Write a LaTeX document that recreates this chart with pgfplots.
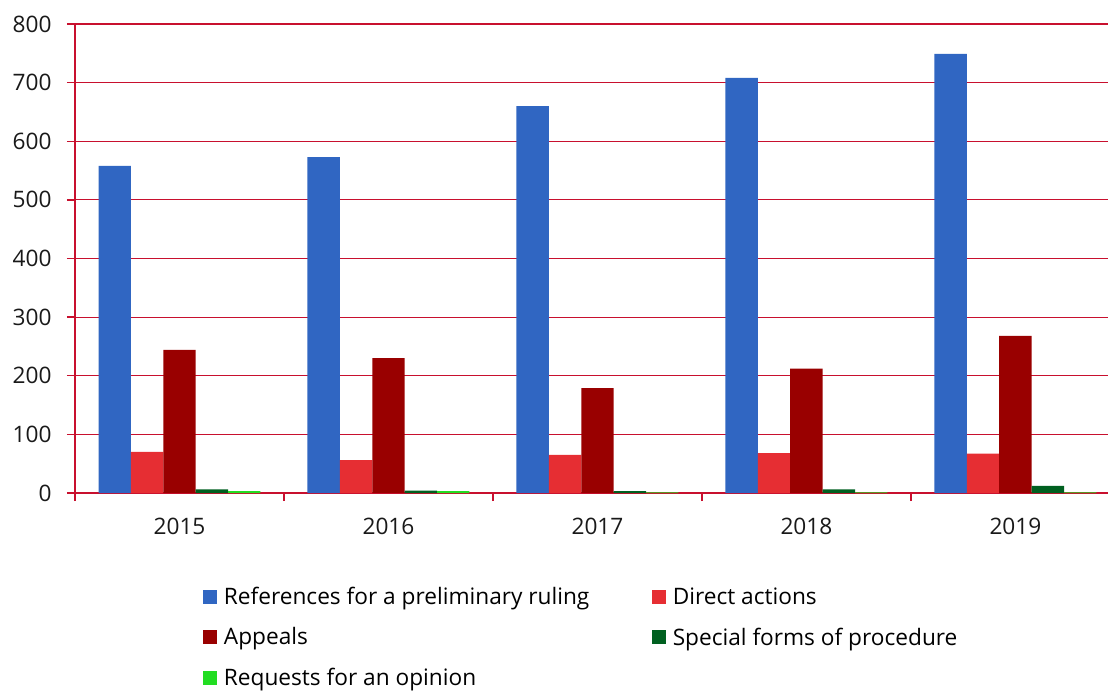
\documentclass[border=0pt]{standalone}
\usepackage{pgfplots}
\pgfplotsset{compat=1.18}
\usepackage{fontspec}
\setmainfont{Open Sans}
\definecolor{cblue}{HTML}{3066C2}
\definecolor{cred}{HTML}{E62E33}
\definecolor{cdred}{HTML}{990000}
\definecolor{cdgreen}{HTML}{006020}
\definecolor{clgreen}{HTML}{22DD22}
\definecolor{cgrid}{HTML}{C8102E}
\begin{document}
\begin{tikzpicture}
\begin{axis}[
  at={(0,0)}, anchor=south west,
  scale only axis, width=774.75pt, height=351.75pt,
  xmin=-0.5, xmax=4.443, ymin=0, ymax=800,
  ybar, bar width=0.155,
  axis x line*=bottom, axis y line*=left,
  axis line style={-, draw=cgrid, line width=1pt},
  ymajorgrids, grid style={cgrid, line width=0.9pt},
  ytick={0,100,...,800},
  tick align=outside,
  major tick length=6pt,
  tick style={cgrid, line width=1pt},
  xtick={-0.5,0.5,1.5,2.5,3.5}, xticklabels={},
  extra x ticks={0,1,2,3,4},
  extra x tick labels={2015,2016,2017,2018,2019},
  extra x tick style={major tick length=0pt, grid=none},
  /pgf/number format/assume math mode=true,
  tick label style={font=\fontsize{17}{20}\selectfont, text=black!90},
  xticklabel style={yshift=-15.5pt},
  yticklabel style={xshift=-8pt},
  legend style={draw=none, fill=none, at={(0.1239,-0.195)}, anchor=north west,
    inner sep=0pt, legend columns=2, font=\fontsize{17}{20}\selectfont,
    /tikz/every odd column/.append style={column sep=3pt},
    /tikz/every even column/.append style={column sep=45pt}, row sep=11.7pt},
  legend cell align=left,
  legend image code/.code={\fill[#1] (0pt,-5.25pt) rectangle (10.5pt,5.25pt);},
]
\addplot[fill=cblue, draw=none, bar shift=-0.31] coordinates {(0,558) (1,573) (2,660) (3,708) (4,749)};
\addplot[fill=cred, draw=none, bar shift=-0.155] coordinates {(0,70) (1,56) (2,65) (3,68) (4,67)};
\addplot[fill=cdred, draw=none, bar shift=0] coordinates {(0,244) (1,230) (2,179) (3,212) (4,268)};
\addplot[fill=cdgreen, draw=none, bar shift=0.155] coordinates {(0,6) (1,4) (2,3) (3,6) (4,12)};
\addplot[fill=clgreen, draw=none, bar shift=0.31] coordinates {(0,3) (1,3) (2,1) (3,1) (4,1)};
\legend{References for a preliminary ruling, Direct actions, Appeals, Special forms of procedure, Requests for an opinion}
\end{axis}
\pgfresetboundingbox
\path (-56.25pt,-147.75pt) rectangle (774.75pt,369.75pt);
\end{tikzpicture}
\end{document}
